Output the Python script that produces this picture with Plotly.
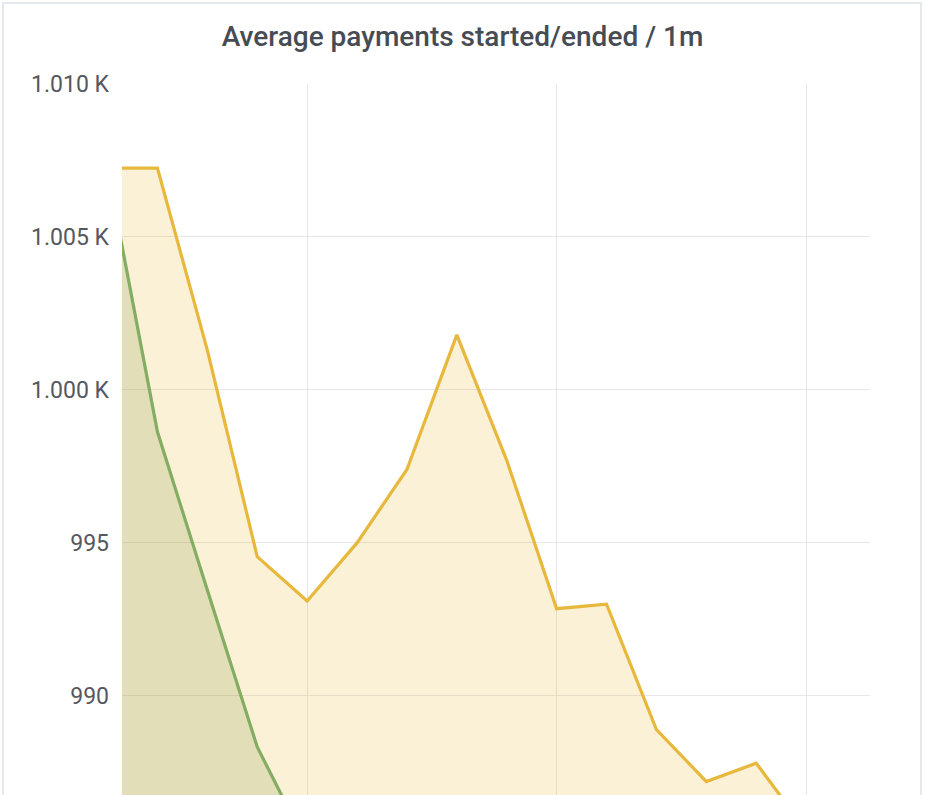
import plotly.graph_objects as go

# time index (minutes)
minutes = [1, 2, 3, 4, 5, 6, 7, 8, 9, 10, 11, 12, 13, 14, 15, 16, 17]
started = [1007.25, 1007.25, 1001.3, 994.55, 993.1, 995.0, 997.4, 1001.8, 997.7,
           992.85, 993.0, 988.9, 987.2, 987.8, 985.6, 985.0, 984.5]
ended = [1007.2, 998.63, 993.46, 988.33, 985.1, 984.0, 983.5, 983.0, 982.8,
         982.5, 982.3, 982.0, 981.8, 981.5, 981.3, 981.0, 980.8]

tick_vals = [990, 995, 1000, 1005, 1010]
tick_text = ["990", "995", "1.000 K", "1.005 K", "1.010 K"]

fig = go.Figure()
fig.add_trace(go.Scatter(
    x=minutes, y=started, mode="lines", name="started",
    line=dict(color="#E8B83C", width=3.2),
    fill="tozeroy", fillcolor="rgba(234,184,57,0.2)",
))
fig.add_trace(go.Scatter(
    x=minutes, y=ended, mode="lines", name="ended",
    line=dict(color="#82AD62", width=3.2),
    fill="tozeroy", fillcolor="rgba(126,150,60,0.2)",
))

fig.update_layout(
    width=925, height=795,
    margin=dict(l=122, r=55, t=84, b=0),
    paper_bgcolor="white", plot_bgcolor="white",
    showlegend=False,
    title=dict(text="Average payments started/ended / 1m",
               x=0.5, xanchor="center", y=1 - 36 / 795, yanchor="middle",
               font=dict(family="Roboto", size=28, color="#464c54", weight=500)),
    font=dict(family="Roboto"),
    xaxis=dict(range=[1.29, 16.28], showticklabels=False, tick0=0, dtick=5,
               showgrid=True, gridcolor="#e4e6ea", gridwidth=1,
               zeroline=False, showline=False, ticks=""),
    yaxis=dict(range=[986.76, 1010], tickvals=tick_vals, ticktext=tick_text,
               showgrid=True, gridcolor="#e6e7ea", gridwidth=1,
               zeroline=False, showline=False, ticks="",
               ticklabelstandoff=12,
               tickfont=dict(family="Roboto", size=23, color="#55585e")),
    shapes=[dict(type="rect", xref="paper", yref="paper",
                 x0=(3 - 122) / 748, x1=(921 - 122) / 748,
                 y0=-0.1, y1=1 + (84 - 3) / 711,
                 line=dict(color="#dde1e8", width=1.5), fillcolor="rgba(0,0,0,0)",
                 layer="below")],
)

fig.write_html("out.html")
